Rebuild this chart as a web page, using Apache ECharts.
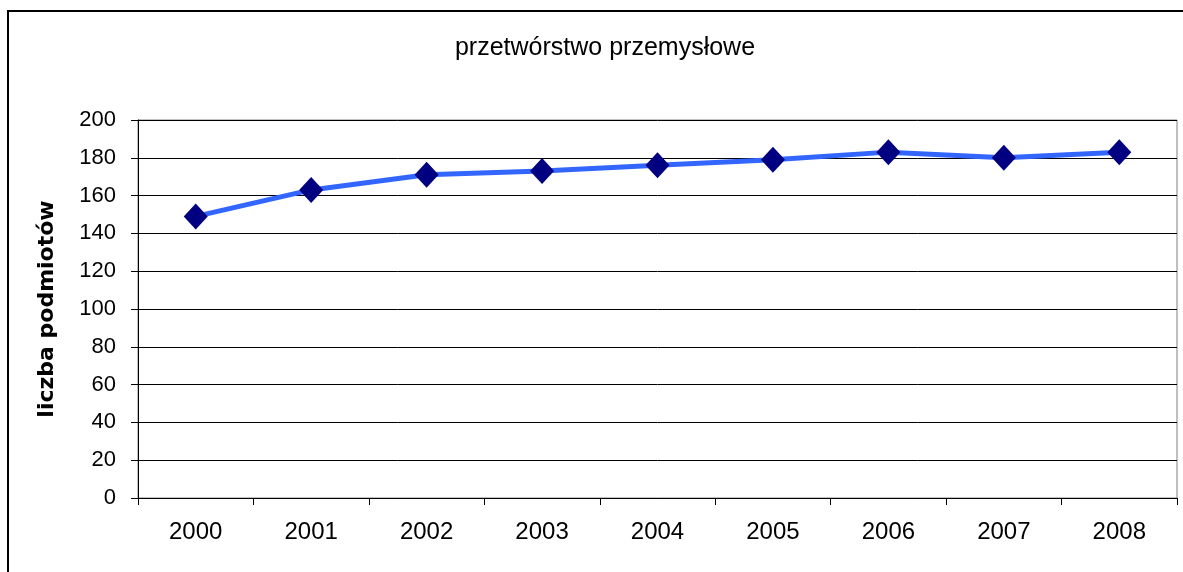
<!DOCTYPE html>
<html>
<head>
<meta charset="utf-8">
<script src="https://cdn.jsdelivr.net/npm/echarts@6/dist/echarts.min.js"></script>
<style>
html,body{margin:0;padding:0;background:#fff;}
#chart{width:1183px;height:572px;}
</style>
</head>
<body>
<div id="chart"></div>
<script>
const categories = ['2000','2001','2002','2003','2004','2005','2006','2007','2008'];
const values = [149, 163, 171, 173, 176, 179, 183, 180, 183];
const chartTitle = 'przetwórstwo przemysłowe';
const yAxisName = 'liczba podmiotów';

const chart = echarts.init(document.getElementById('chart'), null, {renderer: 'canvas'});
const font = '"Liberation Sans", Arial, sans-serif';
chart.setOption({
  animation: false,
  backgroundColor: '#fff',
  title: {
    text: chartTitle,
    left: 600, top: 31, textAlign: 'center',
    textStyle: {fontFamily: font, fontSize: 25, fontWeight: 'normal', color: '#000'}
  },
  graphic: [{
    type: 'rect', silent: true, z: -1,
    shape: {x: 8, y: 11, width: 1200, height: 600},
    style: {fill: 'none', stroke: '#000', lineWidth: 2}
  }],
  grid: {left: 138, right: 6, top: 120, bottom: 74, show: true, borderColor: '#808080', borderWidth: 1, containLabel: false},
  xAxis: {
    type: 'category', data: categories, boundaryGap: true,
    axisLine: {lineStyle: {color: '#000', width: 1}},
    axisTick: {show: true, length: 7, lineStyle: {color: '#000'}},
    axisLabel: {fontFamily: font, fontSize: 24, color: '#000', margin: 22},
    splitLine: {show: false}
  },
  yAxis: {
    type: 'value', min: 0, max: 200, interval: 20,
    name: yAxisName, nameLocation: 'middle', nameGap: 80, nameRotate: 90,
    nameTextStyle: {fontFamily: '"DejaVu Sans", sans-serif', fontSize: 22, fontWeight: 'bold', color: '#000'},
    axisLine: {show: true, lineStyle: {color: '#000', width: 1}},
    axisTick: {show: true, length: 7, lineStyle: {color: '#000'}},
    axisLabel: {fontFamily: font, fontSize: 22, color: '#000', margin: 22},
    splitLine: {show: true, lineStyle: {color: '#000', width: 1}}
  },
  series: [{
    type: 'line', data: values,
    lineStyle: {color: '#3366FF', width: 5},
    symbol: 'diamond', symbolSize: [24, 26],
    itemStyle: {color: '#000080'},
    z: 3
  }]
});
</script>
</body>
</html>
